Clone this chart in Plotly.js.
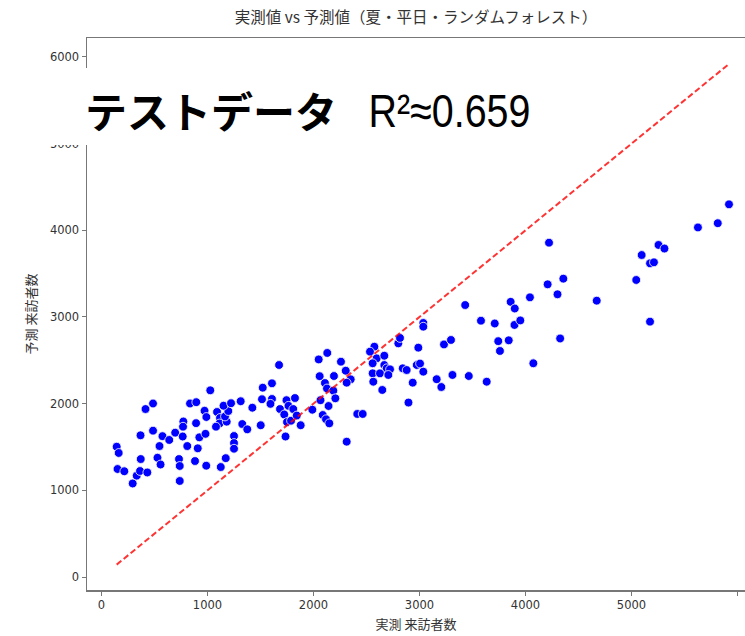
<!DOCTYPE html>
<html>
<head>
<meta charset="utf-8">
<script src="https://cdn.plot.ly/plotly-3.0.1.min.js"></script>
<style>html,body{margin:0;padding:0;background:#fff;}</style>
</head>
<body>
<div id="chart" style="width:745px;height:636px;"></div>
<script>
// 実測 来訪者数 (actual visitors)
const actual = [143,162,151,215,294,332,363,432,370,368,415,486,486,547,528,557,575,639,695,731,738,738,766,772,769,809,835,894,892,882,908,923,972,989,981,988,1026,1090,1118,1113,1080,1181,1165,1196,1125,1151,1172,1222,1250,1250,1250,1313,1328,1375,1423,1502,1514,1521,1608,1608,1594,1675,1684,1724,1745,1736,1764,1750,1788,1809,1825,1842,1879,1989,2049,2130,2058,2108,2127,2066,2087,2118,2142,2149,2187,2206,2193,2259,2304,2351,2313,2313,2413,2464,2574,2533,2596,2668,2558,2668,2691,2722,2558,2627,2706,2564,2649,2800,2816,2989,2842,2879,2974,3005,3036,2936,2896,3036,3036,3231,3297,3162,3206,3311,3465,3634,3431,3580,3710,3743,3759,3842,3860,3899,3896,3951,4042,4074,4209,4222,4357,4302,4327,4672,5045,5096,5175,5212,5255,5311,5175,5627,5814,5920];
// 予測 来訪者数 (predicted visitors)
const predicted = [1503,1431,1246,1220,1079,1169,1223,1206,1361,1635,1938,2002,1688,1511,1376,1298,1625,1581,1665,1361,1281,1108,1621,1794,1734,1511,2002,2017,1775,1338,1485,1612,1918,1846,1652,1284,2154,1904,1835,1771,1734,1792,1852,1915,1269,1976,1371,2005,1627,1546,1480,2028,1765,1704,1953,1751,2051,2184,2235,2054,1998,2446,1938,1875,2040,1621,1975,1788,1803,1938,2065,1863,1751,1930,2510,2585,2317,2238,2175,2040,1869,1820,1973,1773,2150,2062,2319,2484,2380,2281,2242,1561,1881,1881,2657,2600,2523,2553,2466,2446,2408,2396,2350,2350,2331,2253,2158,2696,2758,2646,2408,2388,2446,2463,2369,2242,2013,2931,2888,2683,2735,2282,2192,2331,2319,2253,3138,2957,2925,2721,2608,2731,3175,3098,2908,2960,3227,2466,3377,3857,3442,3262,2752,3188,3427,3715,3619,3631,3831,3790,2946,4033,4082,4300];

const titleText = '実測値 vs 予測値（夏・平日・ランダムフォレスト）';
const xTitle = '実測 来訪者数';
const yTitle = '予測 来訪者数';
const overlayLabel = 'テストデータ';
const overlayScore = 'R²≈0.659';
const tickVals = [0,1000,2000,3000,4000,5000,6000];

const lo = Math.min(...actual);
const hi = Math.max(...actual);

const W = 745, H = 636;
const M = {l: 87, r: 0, t: 38, b: 46};
const pw = W - M.l - M.r, ph = H - M.t - M.b;
const px = x => (x - M.l) / pw;      // pixel -> paper x
const py = y => (H - M.b - y) / ph;  // pixel -> paper y

const jp = '"Noto Sans CJK JP", "Noto Sans", sans-serif';
const tickFont = {family: '"DejaVu Sans", sans-serif', size: 11.5, color: '#333'};

const traces = [
  {
    x: actual, y: predicted, type: 'scatter', mode: 'markers',
    marker: {color: '#0000ff', size: 8.8, line: {color: '#ffffff', width: 0.8}},
    hoverinfo: 'skip', showlegend: false
  },
  {
    x: [lo, hi], y: [lo, hi], type: 'scatter', mode: 'lines',
    line: {color: 'rgba(255,0,0,0.8)', width: 2, dash: '6px,3px'},
    hoverinfo: 'skip', showlegend: false
  }
];

const layout = {
  width: W, height: H,
  margin: M,
  paper_bgcolor: '#ffffff', plot_bgcolor: '#ffffff',
  showlegend: false,
  title: {text: titleText, font: {family: jp, size: 15.5, color: '#333'},
          xref: 'paper', x: 0.5, xanchor: 'center', yref: 'container', y: 1 - 18/H, yanchor: 'middle'},
  xaxis: {
    range: [-137, 6071], tickvals: tickVals, ticktext: tickVals.map(String),
    showgrid: false, zeroline: false,
    showline: true, linecolor: '#777777', linewidth: 1.5, mirror: true,
    ticks: 'outside', ticklen: 4, tickcolor: '#777777', tickwidth: 1,
    tickfont: tickFont,
    title: {text: xTitle, font: {family: jp, size: 13, color: '#333'}, standoff: 8}
  },
  yaxis: {
    range: [-150, 6219], tickvals: tickVals, ticktext: tickVals.map(String),
    showgrid: false, zeroline: false,
    showline: true, linecolor: '#777777', linewidth: 1.5, mirror: false,
    ticks: 'outside', ticklen: 4, tickcolor: '#777777', tickwidth: 1,
    tickfont: tickFont,
    title: {text: yTitle, font: {family: jp, size: 13, color: '#333'}, standoff: 10}
  },
  shapes: [
    {type: 'rect', xref: 'paper', yref: 'paper', layer: 'above',
     x0: px(0), x1: px(545), y0: py(145), y1: py(68),
     fillcolor: '#ffffff', line: {width: 0}}
  ],
  annotations: [
    {text: overlayLabel, xref: 'paper', yref: 'paper', x: px(83), y: py(109),
     xanchor: 'left', yanchor: 'middle', showarrow: false,
     font: {family: jp, size: 42, color: '#000', weight: 'bold'}},
    {text: overlayScore, xref: 'paper', yref: 'paper', x: px(449), y: py(110),
     xanchor: 'center', yanchor: 'middle', showarrow: false,
     font: {family: '"Liberation Sans", Arial, sans-serif', size: 47, color: '#000'}}
  ]
};

Plotly.newPlot('chart', traces, layout, {displayModeBar: false, staticPlot: true}).then(gd => {
  // condense the score text to the narrow face of the reference
  const t = gd.querySelector('g.annotation[data-index="1"] text.annotation-text');
  if (t) {
    t.setAttribute('textLength', '162');
    t.setAttribute('lengthAdjust', 'spacingAndGlyphs');
  }
});
</script>
</body>
</html>
